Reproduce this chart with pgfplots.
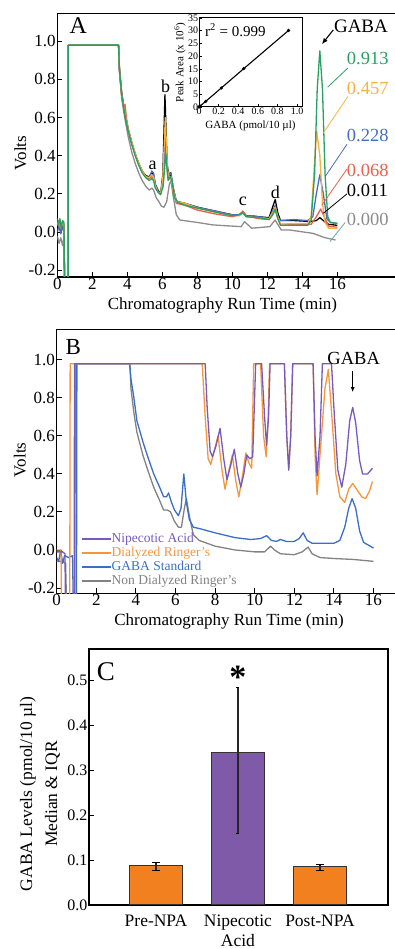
\documentclass[border=0pt]{standalone}
\usepackage{fontspec}
\setmainfont{Liberation Serif}
\usepackage{pgfplots}
\pgfplotsset{compat=1.18}
\usetikzlibrary{arrows.meta}

\definecolor{agreen}{RGB}{40,160,95}
\definecolor{aorange}{RGB}{245,178,64}
\definecolor{ablue}{RGB}{70,110,190}
\definecolor{ared}{RGB}{235,95,75}
\definecolor{agray}{RGB}{140,140,140}
\definecolor{bpurple}{RGB}{120,90,190}
\definecolor{borange}{RGB}{245,150,60}
\definecolor{bblue}{RGB}{60,110,200}
\definecolor{bgray}{RGB}{130,130,130}
\definecolor{corange}{RGB}{242,128,30}
\definecolor{cpurple}{RGB}{126,90,168}

\pgfplotsset{
  base/.style={scale only axis, anchor=south west, tick align=inside, tick pos=left,
    axis line style={line width=1.1pt}, every tick/.style={black,line width=0.9pt},
    major tick length=5pt,
    tick label style={font=\fontsize{17}{17}\selectfont, /pgf/number format/assume math mode=true},
    label style={font=\fontsize{17}{17}\selectfont},
    yticklabel style={inner sep=1.5pt},
    xticklabel style={inner sep=1pt},
  },
  tr/.style={no markers, line width=1.3pt, line join=round},
}

\begin{document}
\begin{tikzpicture}
\useasboundingbox (0pt,0pt) rectangle (394pt,949pt);

% ---------------- Panel A ----------------
\begin{axis}[base, at={(57.3pt,672pt)}, width=342.7pt, height=263.7pt,
  xmin=0, xmax=19.58, ymin=-0.236, ymax=1.147,
  xtick={0,2,4,6,8,10,12,14,16}, ytick={-0.2,0,0.2,0.4,0.6,0.8,1.0},
  yticklabel style={/pgf/number format/.cd, fixed, fixed zerofill, precision=1},
  xlabel={Chromatography Run Time (min)}, ylabel={Volts},
  xlabel style={at={(axis description cs:0.482,0)}, anchor=north, inner sep=0pt, yshift=-21pt},
  ylabel style={at={(axis description cs:-0.108,0.47)}, anchor=center},
]
% gray 0.000
\addplot[tr, agray] coordinates {(0,-0.02)(0.1,-0.06)(0.2,-0.03)(0.3,-0.07)(0.38,-0.03)(0.42,-0.3)(0.62,-0.3)(0.63,0.98)(3.5,0.98)(3.55,0.84)(3.68,0.70)(3.85,0.60)(4.05,0.50)(4.25,0.42)(4.45,0.36)(4.65,0.31)(4.85,0.27)(5.05,0.24)(5.25,0.22)(5.4,0.23)(5.5,0.22)(5.65,0.18)(5.8,0.16)(5.95,0.135)(6.1,0.13)(6.25,0.16)(6.4,0.25)(6.5,0.27)(6.6,0.20)(6.8,0.09)(7.0,0.063)(8,0.05)(8.9,0.037)(10.5,0.028)(10.7,0.054)(11.1,0.02)(12.15,0.028)(12.44,0.063)(12.8,0.01)(13.3,0.01)(14.6,-0.007)(15.3,-0.03)(15.9,-0.042)};
% black 0.011
\addplot[tr, black] coordinates {(0,0.03)(0.1,0.05)(0.2,0.0)(0.3,0.05)(0.38,0.02)(0.42,-0.3)(0.62,-0.3)(0.63,0.98)(3.5,0.98)(3.55,0.86)(3.68,0.73)(3.85,0.63)(4.05,0.54)(4.25,0.47)(4.45,0.41)(4.65,0.36)(4.85,0.32)(5.05,0.295)(5.25,0.29)(5.4,0.31)(5.5,0.30)(5.6,0.25)(5.75,0.22)(5.9,0.20)(6.03,0.30)(6.15,0.72)(6.28,0.35)(6.4,0.28)(6.48,0.31)(6.6,0.24)(6.8,0.16)(7.3,0.15)(8,0.13)(9,0.11)(10,0.09)(10.4,0.09)(10.6,0.105)(10.8,0.085)(11.5,0.08)(12.1,0.075)(12.3,0.13)(12.45,0.17)(12.6,0.1)(12.75,0.06)(13.5,0.06)(14.5,0.055)(14.8,0.06)(15.0,0.075)(15.2,0.06)(15.5,0.04)(16,0.035)};
% red 0.068
\addplot[tr, ared] coordinates {(0,0.05)(0.1,0.02)(0.2,0.05)(0.3,0.01)(0.38,0.04)(0.42,-0.3)(0.62,-0.3)(0.63,0.98)(3.5,0.98)(3.55,0.85)(3.68,0.71)(3.8,0.65)(3.87,0.67)(3.95,0.60)(4.05,0.54)(4.25,0.47)(4.45,0.41)(4.65,0.36)(4.85,0.32)(5.05,0.29)(5.25,0.28)(5.4,0.29)(5.5,0.28)(5.6,0.24)(5.75,0.21)(5.9,0.20)(6.03,0.26)(6.17,0.45)(6.3,0.30)(6.42,0.28)(6.5,0.285)(6.6,0.22)(6.8,0.15)(7.3,0.14)(8,0.115)(9,0.095)(10,0.08)(10.4,0.09)(10.6,0.11)(10.8,0.085)(11.5,0.07)(12.1,0.065)(12.3,0.09)(12.45,0.115)(12.6,0.07)(12.75,0.04)(13.5,0.04)(14.5,0.04)(14.8,0.08)(15.05,0.12)(15.3,0.07)(15.5,0.03)(16,0.025)};
% blue 0.228
\addplot[tr, ablue] coordinates {(0,0.0)(0.1,0.03)(0.2,-0.01)(0.3,0.04)(0.38,0.0)(0.42,-0.3)(0.62,-0.3)(0.63,0.98)(3.5,0.98)(3.55,0.85)(3.68,0.72)(3.85,0.62)(4.05,0.535)(4.25,0.465)(4.45,0.405)(4.65,0.355)(4.85,0.315)(5.05,0.29)(5.25,0.285)(5.4,0.32)(5.5,0.31)(5.6,0.25)(5.75,0.215)(5.9,0.20)(6.03,0.27)(6.17,0.50)(6.3,0.33)(6.42,0.30)(6.5,0.31)(6.6,0.24)(6.8,0.16)(7.3,0.15)(8,0.13)(9,0.11)(10,0.09)(10.4,0.09)(10.6,0.10)(10.8,0.08)(11.2,0.085)(11.5,0.08)(12.1,0.07)(12.3,0.11)(12.45,0.14)(12.6,0.08)(12.75,0.06)(13.5,0.065)(14.3,0.06)(14.6,0.08)(14.8,0.2)(15.0,0.30)(15.2,0.2)(15.4,0.07)(15.6,0.05)(16,0.045)};
% orange 0.457
\addplot[tr, aorange] coordinates {(0,0.04)(0.1,0.06)(0.2,0.02)(0.3,0.05)(0.38,0.03)(0.42,-0.3)(0.62,-0.3)(0.63,0.98)(3.5,0.98)(3.55,0.85)(3.68,0.72)(3.85,0.63)(4.05,0.54)(4.25,0.47)(4.45,0.41)(4.65,0.36)(4.85,0.32)(5.05,0.29)(5.25,0.285)(5.4,0.30)(5.5,0.29)(5.6,0.24)(5.75,0.21)(5.9,0.20)(6.03,0.28)(6.17,0.60)(6.3,0.32)(6.42,0.28)(6.5,0.29)(6.6,0.23)(6.8,0.16)(7.3,0.15)(8,0.125)(9,0.105)(10,0.085)(10.4,0.085)(10.6,0.10)(10.8,0.08)(11.5,0.075)(12.1,0.07)(12.3,0.10)(12.45,0.13)(12.6,0.08)(12.75,0.04)(13.5,0.045)(14.3,0.045)(14.5,0.08)(14.65,0.3)(14.82,0.53)(15.0,0.4)(15.15,0.15)(15.3,0.05)(15.5,0.02)(16,0.02)};
% green 0.913
\addplot[tr, agreen] coordinates {(0,0.07)(0.08,0.04)(0.15,0.07)(0.22,0.02)(0.3,0.06)(0.38,0.05)(0.42,-0.3)(0.62,-0.3)(0.63,0.98)(3.5,0.98)(3.55,0.85)(3.68,0.72)(3.85,0.62)(4.05,0.53)(4.25,0.46)(4.45,0.40)(4.65,0.35)(4.85,0.31)(5.05,0.285)(5.25,0.27)(5.4,0.28)(5.5,0.27)(5.6,0.23)(5.75,0.21)(5.9,0.195)(6.05,0.24)(6.2,0.41)(6.33,0.27)(6.45,0.29)(6.55,0.27)(6.7,0.18)(6.9,0.155)(7.3,0.14)(8,0.125)(9,0.105)(10,0.085)(10.4,0.09)(10.6,0.10)(10.8,0.08)(11.5,0.075)(12.1,0.065)(12.3,0.09)(12.45,0.12)(12.6,0.07)(12.75,0.035)(13.5,0.035)(14.3,0.035)(14.5,0.06)(14.7,0.3)(14.85,0.75)(15.0,0.95)(15.15,0.75)(15.3,0.3)(15.45,0.08)(15.6,0.05)(16,0.045)};

\node[font=\fontsize{24}{24}\selectfont] at (axis cs:1.2,1.08) {A};
\node[font=\fontsize{18}{18}\selectfont] at (axis cs:5.45,0.35) {a};
\node[font=\fontsize{18}{18}\selectfont] at (axis cs:6.19,0.764) {b};
\node[font=\fontsize{18}{18}\selectfont] at (axis cs:10.6,0.16) {c};
\node[font=\fontsize{18}{18}\selectfont] at (axis cs:12.46,0.21) {d};
\node[font=\fontsize{19}{19}\selectfont] at (axis cs:17.35,1.08) {GABA};
\draw[-{Latex[length=6pt,width=5pt]}, line width=1.1pt] (axis cs:15.77,1.06) -- (axis cs:15.12,0.985);
\begin{scope}[every node/.style={anchor=west, inner sep=0pt, font=\fontsize{18.5}{18.5}\selectfont}]
\node[agreen] at (axis cs:16.54,0.909) {0.913};
\node[aorange] at (axis cs:16.54,0.752) {0.457};
\node[ablue] at (axis cs:16.54,0.508) {0.228};
\node[ared] at (axis cs:16.54,0.325) {0.068};
\node[black] at (axis cs:16.54,0.22) {0.011};
\node[agray] at (axis cs:16.54,0.063) {0.000};
\end{scope}
\draw[agreen, line width=0.8pt] (axis cs:16.6,0.86) -- (axis cs:15.45,0.76);
\draw[aorange, line width=0.8pt] (axis cs:16.6,0.71) -- (axis cs:15.2,0.52);
\draw[ablue, line width=0.8pt] (axis cs:16.55,0.46) -- (axis cs:15.3,0.29);
\draw[ared, line width=0.8pt] (axis cs:16.55,0.33) -- (axis cs:15.11,0.14);
\draw[black, line width=0.8pt] (axis cs:16.55,0.2) -- (axis cs:15.2,0.098);
\draw[agray!80!cyan, line width=0.8pt] (axis cs:16.45,0.05) -- (axis cs:15.58,-0.05);
\end{axis}

% inset
\begin{axis}[scale only axis, anchor=south west, at={(199pt,842pt)}, width=103pt, height=89pt,
  xmin=0, xmax=1.05, ymin=0, ymax=35, tick align=inside, tick pos=left,
  axis line style={line width=1pt}, every tick/.style={black,line width=0.6pt}, major tick length=3pt,
  axis background/.style={fill=white},
  xtick={0,0.2,0.4,0.6,0.8,1.0}, xticklabels={0,0.2,0.4,0.6,0.8,1.0},
  ytick={0,5,10,15,20,25,30,35},
  tick label style={font=\fontsize{10}{10}\selectfont, /pgf/number format/assume math mode=true},
  xticklabel style={inner sep=1pt}, yticklabel style={inner sep=0.8pt},
  label style={font=\fontsize{11}{11}\selectfont},
  xlabel={GABA (pmol/10 µl)}, ylabel={Peak Area (x 10\textsuperscript{6})},
  xlabel style={at={(axis description cs:0.5,0)}, anchor=north, inner sep=0pt, yshift=-14pt},
  ylabel style={at={(axis description cs:-0.185,0.5)}, anchor=center},
]
\addplot[black, line width=1.1pt, mark=*, mark size=1pt] coordinates {(0,0)(0.011,0.36)(0.068,2.2)(0.228,7.5)(0.457,15.1)(0.913,30.1)};
\node[anchor=west, inner sep=0pt, font=\fontsize{15}{15}\selectfont] at (axis cs:0.06,30.2) {r\textsuperscript{2} = 0.999};
\end{axis}

% ---------------- Panel B ----------------
\begin{axis}[base, at={(56.7pt,355.7pt)}, width=343.3pt, height=264pt,
  xmin=0, xmax=17.34, ymin=-0.228, ymax=1.161,
  xtick={0,2,4,6,8,10,12,14,16}, ytick={-0.2,0,0.2,0.4,0.6,0.8,1.0},
  yticklabel style={/pgf/number format/.cd, fixed, fixed zerofill, precision=1},
  xlabel={Chromatography Run Time (min)}, ylabel={Volts},
  xlabel style={at={(axis description cs:0.502,0)}, anchor=north, inner sep=0pt, yshift=-20pt},
  ylabel style={at={(axis description cs:-0.107,0.505)}, anchor=center},
  reverse legend, legend cell align=left,
  legend style={at={(rel axis cs:0.07,0.232)}, anchor=north west, draw=none, fill=none,
    inner sep=0pt, row sep=0.5pt, font=\fontsize{13.5}{13.5}\selectfont,
    nodes={inner sep=0.5pt, text height=9.5pt, text depth=3pt}},
  legend image code/.code={\draw[#1, line width=1.3pt] (0pt,0pt) -- (29pt,0pt);},
]
\addplot[tr, bgray] coordinates {(0,-0.06)(0.25,-0.06)(0.45,-0.07)(0.5,-0.3)(0.92,-0.3)(0.94,0.98)(3.7,0.98)(3.75,0.85)(3.9,0.72)(4.05,0.62)(4.35,0.50)(4.6,0.42)(4.9,0.33)(5.2,0.26)(5.4,0.21)(5.6,0.21)(5.75,0.20)(5.95,0.15)(6.15,0.12)(6.3,0.12)(6.45,0.22)(6.55,0.27)(6.7,0.18)(6.9,0.08)(7.2,0.05)(8,0.02)(9,0.0)(10,-0.01)(10.5,-0.01)(10.8,0.02)(11.0,0.0)(11.3,-0.02)(12,-0.025)(12.4,-0.01)(12.7,0.015)(12.9,-0.02)(13.3,-0.04)(14,-0.045)(15,-0.05)(16,-0.06)};
\addlegendentry{\textcolor{bgray}{Non Dialyzed Ringer's}}
\addplot[tr, bblue] coordinates {(0,-0.04)(0.1,-0.06)(0.2,0.0)(0.3,-0.07)(0.4,-0.03)(0.6,-0.04)(0.8,-0.03)(0.84,-0.3)(1.0,-0.3)(1.02,0.98)(3.68,0.98)(3.75,0.90)(3.9,0.80)(4.05,0.68)(4.35,0.57)(4.6,0.49)(4.9,0.40)(5.2,0.33)(5.4,0.28)(5.55,0.28)(5.65,0.30)(5.8,0.25)(5.95,0.21)(6.15,0.18)(6.28,0.22)(6.42,0.40)(6.55,0.25)(6.7,0.16)(6.9,0.12)(7.3,0.11)(8,0.09)(9,0.065)(9.8,0.055)(10.3,0.06)(10.6,0.075)(10.85,0.05)(11.1,0.045)(11.3,0.055)(11.6,0.045)(12.0,0.045)(12.25,0.06)(12.45,0.09)(12.65,0.05)(12.9,0.035)(13.5,0.035)(14.0,0.035)(14.3,0.05)(14.55,0.12)(14.75,0.22)(14.92,0.27)(15.1,0.22)(15.3,0.10)(15.5,0.04)(15.75,0.025)(16,0.01)};
\addlegendentry{\textcolor{bblue}{GABA Standard}}
\addplot[tr, borange] coordinates {(0,0.0)(0.22,0.0)(0.24,-0.3)(0.66,-0.3)(0.68,0.98)(7.35,0.98)(7.5,0.7)(7.65,0.48)(7.78,0.45)(7.95,0.52)(8.15,0.60)(8.35,0.42)(8.5,0.32)(8.7,0.42)(8.87,0.50)(9.05,0.36)(9.2,0.28)(9.4,0.40)(9.55,0.51)(9.7,0.46)(9.85,0.43)(9.95,0.98)(10.3,0.98)(10.45,0.6)(10.58,0.49)(10.68,0.7)(10.75,0.98)(11.5,0.98)(11.62,0.6)(11.72,0.43)(11.82,0.6)(11.92,0.98)(12.95,0.98)(13.05,0.5)(13.15,0.29)(13.3,0.5)(13.55,0.85)(13.72,0.95)(13.9,0.7)(14.1,0.4)(14.3,0.28)(14.55,0.25)(14.75,0.32)(14.95,0.35)(15.15,0.32)(15.4,0.28)(15.6,0.27)(15.8,0.31)(15.95,0.36)};
\addlegendentry{\textcolor{borange}{Dialyzed Ringer's}}
\addplot[tr, bpurple] coordinates {(0,-0.01)(0.3,-0.01)(0.42,-0.02)(0.44,-0.3)(0.88,-0.3)(0.9,0.98)(7.5,0.98)(7.6,0.75)(7.75,0.52)(7.87,0.49)(8.05,0.55)(8.25,0.64)(8.45,0.47)(8.6,0.37)(8.8,0.45)(8.97,0.53)(9.15,0.40)(9.3,0.33)(9.45,0.40)(9.6,0.50)(9.75,0.48)(9.9,0.49)(10.05,0.98)(10.35,0.98)(10.5,0.7)(10.6,0.55)(10.7,0.7)(10.78,0.98)(11.5,0.98)(11.62,0.6)(11.72,0.42)(11.82,0.6)(11.92,0.98)(12.95,0.98)(13.05,0.6)(13.15,0.39)(13.3,0.6)(13.42,0.98)(13.88,0.98)(14.0,0.75)(14.2,0.42)(14.4,0.33)(14.6,0.45)(14.8,0.68)(14.95,0.75)(15.1,0.67)(15.3,0.47)(15.45,0.40)(15.7,0.40)(15.95,0.43)};
\addlegendentry{\textcolor{bpurple}{Nipecotic Acid}}
\node[font=\fontsize{23}{23}\selectfont] at (axis cs:0.84,1.07) {B};
\node[font=\fontsize{18.5}{18.5}\selectfont] at (axis cs:15.0,1.01) {GABA};
\draw[-{Latex[length=5pt,width=4pt]}, line width=1.1pt] (axis cs:14.95,0.94) -- (axis cs:14.95,0.83);
\end{axis}

% ---------------- Panel C ----------------
\begin{axis}[base, at={(89pt,44pt)}, width=299pt, height=256pt,
  xmin=-0.817, xmax=2.83, ymin=0, ymax=0.569,
  ybar, bar width=0.655, bar shift=0pt,
  xtick={0,1,2}, xticklabels={Pre-NPA,{Nipecotic\\Acid},Post-NPA},
  xtick style={draw=none},
  xticklabel style={align=center, font=\fontsize{17.5}{19.5}\selectfont, yshift=-4pt},
  ytick={0,0.1,0.2,0.3,0.4,0.5},
  yticklabel style={font=\fontsize{16}{16}\selectfont, /pgf/number format/.cd, fixed, fixed zerofill, precision=1},
  ylabel={GABA Levels (pmol/10 µl)\\Median \& IQR},
  ylabel style={align=center, font=\fontsize{17.5}{25}\selectfont, at={(axis description cs:-0.164,0.434)}, anchor=center},
  error bars/y dir=both, error bars/y explicit,
  error bars/error bar style={line width=1.3pt, black!85},
]
\addplot[fill=corange, draw=black!80, line width=1pt, error bars/error mark options={rotate=90, mark size=4pt, line width=1.2pt, black}]
  coordinates {(0,0.088) += (0,0.006) -= (0,0.012)};
\addplot[fill=cpurple, draw=black!80, line width=1pt, error bars/error mark options={rotate=90, mark size=1.5pt, line width=1.2pt, black}]
  coordinates {(1,0.338) += (0,0.145) -= (0,0.179)};
\addplot[fill=corange, draw=black!80, line width=1pt, error bars/error mark options={rotate=90, mark size=4pt, line width=1.2pt, black}]
  coordinates {(2,0.085) += (0,0.005) -= (0,0.008)};
\node[font=\fontsize{27}{27}\selectfont] at (axis cs:-0.61,0.518) {C};
\node[font=\fontsize{34}{34}\selectfont\bfseries] at (axis cs:1,0.506) {*};
\end{axis}
\end{tikzpicture}
\end{document}
